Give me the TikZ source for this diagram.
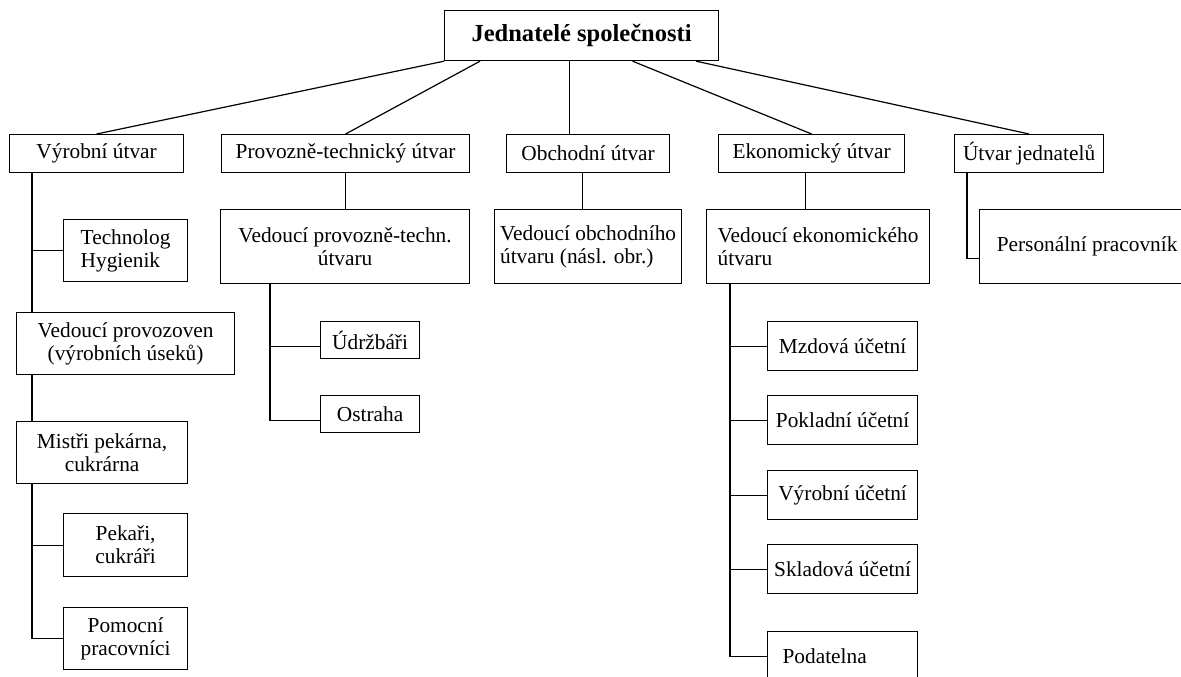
\documentclass[tikz,border=0pt]{standalone}
\usepackage{fontspec}
\setmainfont{Liberation Serif}
\newcommand{\pismo}{\fontsize{16}{17.25}\selectfont}
\begin{document}
\begin{tikzpicture}[x=0.75pt,y=-0.75pt,line width=0.9pt]
		\tikzstyle{blok}=[draw, anchor=north west, inner sep=0pt, align=center, font=\pismo]
		\tikzstyle{blok_hlava}=[blok, minimum height=28.5pt]
		\tikzstyle{blok_vedouci}=[blok, align=left, minimum height=55.5pt]
		\tikzstyle{blok_ucetni}=[blok, minimum width=112.5pt, minimum height=36.75pt]
		\useasboundingbox (0,0) rectangle (1181,677);
		\clip (0,0) rectangle (1181,677);
		\node[blok, font=\fontsize{18.4}{20}\selectfont\bfseries, minimum width=205.5pt, minimum height=37.5pt] (jednatele) at (444,10) {Jednatelé společnosti};
		\node[blok_hlava, minimum width=130.5pt] (vyroba) at (9,134) {Výrobní útvar};
		\node[blok_hlava, minimum width=186pt] (provoz) at (221,134) {Provozně-technický útvar};
		\node[blok_hlava, minimum width=122.25pt] (obchod) at (506,134) {Obchodní útvar};
		\node[blok_hlava, minimum width=139.5pt] (ekonom) at (718,134) {Ekonomický útvar};
		\node[blok_hlava, minimum width=111.75pt] (utvar) at (954,134) {Útvar jednatelů};
		\node[blok_vedouci, align=center, minimum width=186.75pt] (vedprov) at (220,209) {Vedoucí provozně-techn.\\útvaru};
		\node[blok_vedouci, minimum width=140.25pt] (vedobch) at (494,209) {Vedoucí obchodního\\útvaru (násl. obr.)};
		\node[blok_vedouci, minimum width=167.25pt] (vedekon) at (706,209) {Vedoucí ekonomického\\útvaru};
		\node[blok_vedouci, minimum width=161.25pt] (personal) at (979,209) {Personální pracovník};
		% vyroba
		\node[blok, align=left, minimum width=93pt, minimum height=46.5pt] (technolog) at (63,219) {Technolog\\Hygienik};
		\node[blok, minimum width=163.5pt, minimum height=46.5pt] (vedprovoz) at (16,312) {Vedoucí provozoven\\(výrobních úseků)};
		\node[blok, minimum width=128.25pt, minimum height=46.5pt] (mistri) at (16,421) {Mistři pekárna,\\cukrárna};
		\node[blok, minimum width=93pt, minimum height=47.25pt] (pekari) at (63,513) {Pekaři,\\cukráři};
		\node[blok, minimum width=93pt, minimum height=46.5pt] (pomocni) at (63,607) {Pomocní\\pracovníci};
		% provoz
		\node[blok, minimum width=74.25pt, minimum height=27.75pt] (udrzbari) at (320,321) {Údržbáři};
		\node[blok, minimum width=74.25pt, minimum height=27.75pt] (ostraha) at (320,395) {Ostraha};
		% ekonomika
		\node[blok_ucetni] (mzdova) at (767,321) {Mzdová účetní};
		\node[blok_ucetni] (pokladni) at (767,395) {Pokladní účetní};
		\node[blok_ucetni] (vyrobniuc) at (767,470) {Výrobní účetní};
		\node[blok_ucetni] (skladova) at (767,544) {Skladová účetní};
		\node[blok_ucetni, align=left, inner xsep=11.25pt, text width=90pt, minimum height=37.5pt] (podatelna) at (767,631) {Podatelna};
		% spojnice
		\draw (jednatele.south west) -- (vyroba.north);
		\draw ([xshift=27pt]jednatele.south west) -- (provoz.north);
		\draw ([xshift=-9pt]jednatele.south) -- ([xshift=-9pt]jednatele.south |- obchod.north);
		\draw ([xshift=38.25pt]jednatele.south) -- (ekonom.north);
		\draw ([xshift=-17.25pt]jednatele.south east) -- (utvar.north);
		\draw (provoz.south) -- (provoz.south |- vedprov.north);
		\draw ([xshift=-4.5pt]obchod.south) -- ([xshift=-4.5pt]obchod.south |- vedobch.north);
		\draw ([xshift=-4.5pt]ekonom.south) -- ([xshift=-4.5pt]ekonom.south |- vedekon.north);
		\coordinate (osaV) at ([xshift=17.25pt]vyroba.south west);
		\coordinate (osaP) at ([xshift=37.5pt]vedprov.south west);
		\coordinate (osaE) at ([xshift=18pt]vedekon.south west);
		\coordinate (osaU) at ([xshift=9.75pt]utvar.south west);
		\draw (osaV) -- (osaV |- vedprovoz.north);
		\draw (osaV |- vedprovoz.south) -- (osaV |- mistri.north);
		\draw (osaV |- mistri.south) |- (pomocni.west);
		\draw (technolog.west) -- (technolog.west -| osaV);
		\draw (pekari.west) -- (pekari.west -| osaV);
		\draw (osaP) |- ([yshift=-4.5pt]ostraha.west);
		\draw ([yshift=-4.5pt]udrzbari.west) -- ([yshift=-4.5pt]udrzbari.west -| osaP);
		\draw (osaE) |- (podatelna.west);
		\foreach \uc in {mzdova,pokladni,vyrobniuc,skladova}
			\draw (\uc.west) -- (\uc.west -| osaE);
		\draw (osaU) |- ([yshift=-9pt]personal.west);
	\end{tikzpicture}
\end{document}
